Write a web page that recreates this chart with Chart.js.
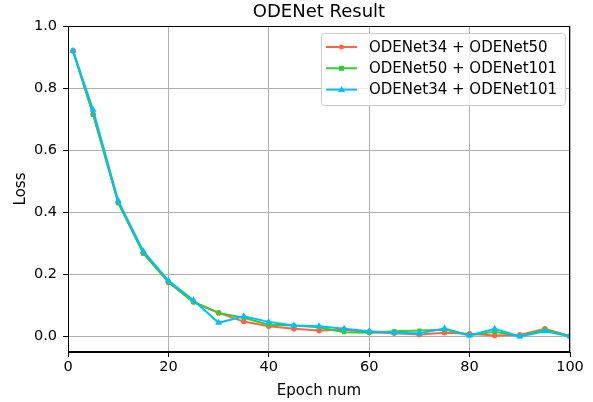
<!DOCTYPE html>
<html>
<head>
<meta charset="utf-8">
<script src="https://cdn.jsdelivr.net/npm/chart.js@4.4.1/dist/chart.umd.min.js"></script>
<style>
  html, body { margin: 0; padding: 0; background: #fff; }
  #wrap { width: 593px; height: 402px; }
</style>
</head>
<body>
<div id="wrap"><canvas id="lossChart" width="593" height="402"></canvas></div>
<script>
// Epochs and loss values
const epochs = [1, 5, 10, 15, 20, 25, 30, 35, 40, 45, 50, 55, 60, 65, 70, 75, 80, 85, 90, 95, 100];
const loss34_50 = [0.92, 0.716, 0.431, 0.268, 0.175, 0.111, 0.076, 0.048, 0.033, 0.025, 0.019, 0.022, 0.014, 0.010, 0.006, 0.012, 0.009, 0.003, 0.005, 0.025, 0.001];
const loss50_101 = [0.92, 0.716, 0.431, 0.268, 0.175, 0.111, 0.076, 0.060, 0.038, 0.035, 0.030, 0.014, 0.012, 0.017, 0.019, 0.022, 0.004, 0.015, 0.001, 0.022, 0.001];
const loss34_101 = [0.92, 0.730, 0.437, 0.275, 0.180, 0.117, 0.044, 0.065, 0.047, 0.035, 0.033, 0.025, 0.017, 0.012, 0.010, 0.026, 0.003, 0.025, 0.000, 0.017, 0.001];
const xTicks = [0, 20, 40, 60, 80, 100];
const yTicks = [0.0, 0.2, 0.4, 0.6, 0.8, 1.0];

const FONT = 'DejaVu Sans';

function toPoints(values) {
  return epochs.map((e, i) => ({x: e, y: values[i]}));
}

// Title, frame and in-plot legend, matplotlib style
const decorPlugin = {
  id: 'decor',
  afterDraw(chart) {
    const {ctx, chartArea: a} = chart;
    ctx.save();
    // frame
    ctx.strokeStyle = '#000';
    ctx.lineWidth = 1;
    ctx.strokeRect(a.left + 0.5, a.top + 0.5, a.right - a.left - 1, a.bottom - a.top - 1);
    // title
    ctx.fillStyle = '#000';
    ctx.font = '18px ' + FONT;
    ctx.textAlign = 'center';
    ctx.textBaseline = 'middle';
    ctx.fillText('ODENet Result', (a.left + a.right) / 2, 12);
    // legend
    const bx = 321, by = 33, bw = 244, bh = 72;
    ctx.fillStyle = 'rgba(255,255,255,0.8)';
    ctx.strokeStyle = '#cccccc';
    ctx.beginPath();
    ctx.roundRect(bx + 0.5, by + 0.5, bw, bh, 3);
    ctx.fill();
    ctx.stroke();
    ctx.font = '15px ' + FONT;
    ctx.textAlign = 'left';
    chart.data.datasets.forEach((ds, i) => {
      const y = by + 14 + i * 21.3;
      ctx.strokeStyle = ds.borderColor;
      ctx.lineWidth = 2;
      ctx.beginPath();
      ctx.moveTo(326, y);
      ctx.lineTo(357, y);
      ctx.stroke();
      ctx.fillStyle = ds.borderColor;
      const cx = 341.5;
      if (ds.pointStyle === 'circle') {
        ctx.beginPath(); ctx.arc(cx, y, 2.5, 0, Math.PI * 2); ctx.fill();
      } else if (ds.pointStyle === 'rect') {
        ctx.fillRect(cx - 2.5, y - 2.5, 5, 5);
      } else {
        ctx.beginPath(); ctx.moveTo(cx, y - 3.5); ctx.lineTo(cx + 3.5, y + 2.5); ctx.lineTo(cx - 3.5, y + 2.5); ctx.closePath(); ctx.fill();
      }
      ctx.fillStyle = '#000';
      ctx.fillText(ds.label, 369, y + 1);
    });
    ctx.restore();
  }
};

new Chart(document.getElementById('lossChart').getContext('2d'), {
  type: 'line',
  data: {
    datasets: [
      {
        label: 'ODENet34 + ODENet50',
        data: toPoints(loss34_50),
        borderColor: '#ff6347',
        backgroundColor: '#ff6347',
        borderWidth: 2,
        pointStyle: 'circle',
        pointRadius: 2.8,
        pointBorderWidth: 0,
        order: 3
      },
      {
        label: 'ODENet50 + ODENet101',
        data: toPoints(loss50_101),
        borderColor: '#32cd32',
        backgroundColor: '#32cd32',
        borderWidth: 2,
        pointStyle: 'rect',
        pointRadius: 3,
        pointBorderWidth: 0,
        order: 2
      },
      {
        label: 'ODENet34 + ODENet101',
        data: toPoints(loss34_101),
        borderColor: '#00bfff',
        backgroundColor: '#00bfff',
        borderWidth: 2,
        pointStyle: 'triangle',
        pointRadius: 4,
        pointBorderWidth: 0,
        order: 1
      }
    ]
  },
  options: {
    responsive: false,
    animation: false,
    layout: {padding: {top: 26, right: 23, left: 0, bottom: 0}},
    plugins: {
      legend: {display: false},
      title: {display: false},
      tooltip: {enabled: false}
    },
    scales: {
      x: {
        type: 'linear',
        min: 0,
        max: 100,
        afterBuildTicks: (scale) => { scale.ticks = xTicks.map(v => ({value: v})); },
        afterFit: (scale) => { scale.height = 50; },
        ticks: {color: '#000', font: {family: FONT, size: 14.5}, padding: 2, maxRotation: 0},
        grid: {color: '#b0b0b0', lineWidth: 1, tickColor: '#000', tickLength: 5},
        border: {color: '#000'},
        title: {display: true, text: 'Epoch num', color: '#000', font: {family: FONT, size: 15}, padding: {top: 0, bottom: 2}}
      },
      y: {
        type: 'linear',
        min: -0.05,
        max: 1.0,
        afterBuildTicks: (scale) => { scale.ticks = yTicks.map(v => ({value: v})); },
        afterFit: (scale) => { scale.width = 68; },
        ticks: {color: '#000', font: {family: FONT, size: 14.5}, padding: 6, callback: (v) => v.toFixed(1)},
        grid: {color: '#b0b0b0', lineWidth: 1, tickColor: '#000', tickLength: 5},
        border: {color: '#000'},
        title: {display: true, text: 'Loss', color: '#000', font: {family: FONT, size: 15}, padding: {top: 12, bottom: 0}}
      }
    }
  },
  plugins: [decorPlugin]
});
</script>
</body>
</html>
